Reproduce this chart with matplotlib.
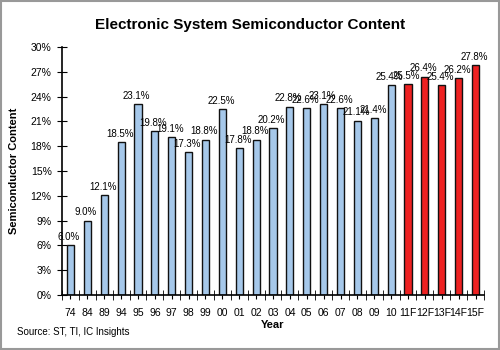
import matplotlib.pyplot as plt
import numpy as np
from matplotlib.ticker import FuncFormatter, FixedLocator
from matplotlib.patches import Rectangle

plt.rcParams['font.family'] = ['Liberation Sans', 'DejaVu Sans']

years = ['74', '84', '89', '94', '95', '96', '97', '98', '99', '00', '01', '02',
         '03', '04', '05', '06', '07', '08', '09', '10',
         '11F', '12F', '13F', '14F', '15F']
content = [6.0, 9.0, 12.1, 18.5, 23.1, 19.8, 19.1, 17.3, 18.8, 22.5, 17.8, 18.8,
           20.2, 22.8, 22.6, 23.1, 22.6, 21.1, 21.4, 25.4,
           25.5, 26.4, 25.4, 26.2, 27.8]
forecast = [y.endswith('F') for y in years]

fig = plt.figure(figsize=(5, 3.5), dpi=100)
ax = fig.add_axes([62 / 500, 55 / 350, 422 / 500, 248 / 350])

x = np.arange(len(years))
colors = ['#ee2222' if f else '#a6c8ea' for f in forecast]
ax.bar(x, content, width=0.42, color=colors, edgecolor='#111111', linewidth=1.0, zorder=2)

# value labels, Excel style, a touch left of the bar
for xi, v in zip(x, content):
    ax.text(xi - 0.08, v + 0.4, f'{v:.1f}%', ha='center', va='bottom', fontsize=7.0)

ax.set_xlim(-0.5, len(years) - 0.5)
ax.set_ylim(0, 30)
ax.set_yticks(np.arange(0, 31, 3))
ax.yaxis.set_major_formatter(FuncFormatter(lambda v, p: f'{v:.0f}%'))

ax.set_xticks(x)
ax.set_xticklabels(years)
ax.xaxis.set_minor_locator(FixedLocator(np.arange(-0.5, len(years), 1.0)))
ax.tick_params(axis='x', which='major', length=3, direction='out', labelsize=7.5, pad=6)
ax.tick_params(axis='x', which='minor', length=7, direction='inout')
ax.tick_params(axis='y', length=7, direction='inout', labelsize=7.5, pad=4)

for s in ['top', 'right']:
    ax.spines[s].set_visible(False)
ax.spines['left'].set_linewidth(1.2)
ax.spines['bottom'].set_linewidth(1.2)

ax.set_xlabel('Year', fontsize=8, fontweight='bold', labelpad=2)
ax.set_ylabel('Semiconductor Content', fontsize=8, fontweight='bold', labelpad=8)

fig.text(0.5, 1 - 25 / 350, 'Electronic System Semiconductor Content',
         ha='center', va='center', fontsize=11, fontweight='bold')
fig.text(17 / 500, 1 - 332 / 350, 'Source: ST, TI, IC Insights', ha='left', va='center', fontsize=7)

fig.patches.append(Rectangle((0.002, 0.003), 0.995, 0.994, transform=fig.transFigure,
                             fill=False, edgecolor='#999999', linewidth=1.5))

fig.savefig('out.png', dpi=100)
